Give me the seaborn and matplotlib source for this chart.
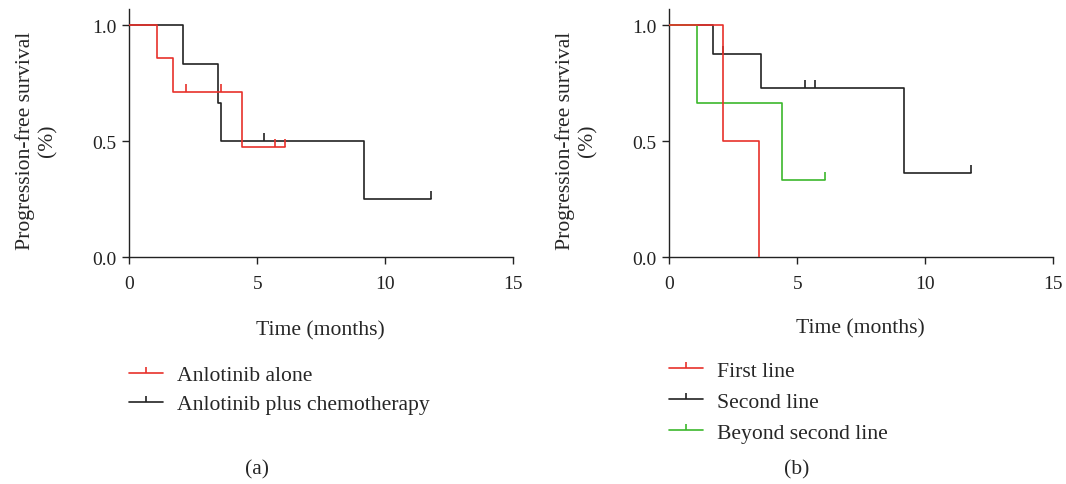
import numpy as np
import pandas as pd
import matplotlib
matplotlib.use("Agg")
import matplotlib.pyplot as plt
from matplotlib.lines import Line2D
import seaborn as sns

sns.set_style("ticks")
plt.rcParams['font.family'] = ['Liberation Serif', 'DejaVu Serif']

# ---------- Panel (a) data ----------
a_alone_t = [0, 1.09, 1.69, 4.40, 6.08]
a_alone_s = [1.0, 0.857, 0.714, 0.476, 0.476]
a_alone_ct = [2.21, 3.58, 5.69, 6.08]
a_alone_cs = [0.714, 0.714, 0.476, 0.476]

a_chemo_t = [0, 2.08, 3.48, 3.60, 9.18, 11.78]
a_chemo_s = [1.0, 0.833, 0.667, 0.5, 0.25, 0.25]
a_chemo_ct = [5.27, 11.78]
a_chemo_cs = [0.5, 0.25]

# ---------- Panel (b) data ----------
b_first_t = [0, 2.08, 3.49]
b_first_s = [1.0, 0.5, 0.0]
b_first_ct = []
b_first_cs = []

b_second_t = [0, 1.69, 3.58, 9.18, 11.78]
b_second_s = [1.0, 0.875, 0.729, 0.365, 0.365]
b_second_ct = [2.11, 5.29, 5.68, 11.78]
b_second_cs = [0.875, 0.729, 0.729, 0.365]

b_beyond_t = [0, 1.09, 4.40, 6.08]
b_beyond_s = [1.0, 0.667, 0.333, 0.333]
b_beyond_ct = [6.08]
b_beyond_cs = [0.333]

labels_a = ["Anlotinib alone", "Anlotinib plus chemotherapy"]
labels_b = ["First line", "Second line", "Beyond second line"]
xticks = [0, 5, 10, 15]
yticks = [0.0, 0.5, 1.0]
ytick_labels = ["0.0", "0.5", "1.0"]

RED = "#e8312b"
BLACK = "#222222"
GREEN = "#3cb82c"
FS = 15.6
TFS = 14.0
LW = 1.2

fig = plt.figure(figsize=(10.66, 4.85), dpi=100)
W, H = 1066, 485
ax_a = fig.add_axes([129.3 / W, 1 - 258.3 / H, 383.7 / W, 248.3 / H])
ax_b = fig.add_axes([669.3 / W, 1 - 258.3 / H, 383.7 / W, 248.3 / H])


def km(ax, t, s, ct, cs, color, label, z):
    df = pd.DataFrame({"t": t, "s": s})
    sns.lineplot(data=df, x="t", y="s", ax=ax, color=color, lw=LW,
                 drawstyle="steps-post", estimator=None, sort=False,
                 zorder=z, label=label)
    if len(ct):
        dc = pd.DataFrame({"t": ct, "s": cs})
        sns.scatterplot(data=dc, x="t", y="s", ax=ax, color=color,
                        marker=2, s=30, linewidth=LW, zorder=z,
                        legend=False)


# panel (a)
km(ax_a, a_chemo_t, a_chemo_s, a_chemo_ct, a_chemo_cs, BLACK, labels_a[1], 3)
km(ax_a, a_alone_t, a_alone_s, a_alone_ct, a_alone_cs, RED, labels_a[0], 4)

# panel (b)
km(ax_b, b_second_t, b_second_s, b_second_ct, b_second_cs, BLACK, labels_b[1], 3)
km(ax_b, b_beyond_t, b_beyond_s, b_beyond_ct, b_beyond_cs, GREEN, labels_b[2], 4)
km(ax_b, b_first_t, b_first_s, b_first_ct, b_first_cs, RED, labels_b[0], 5)

for ax, labs, cols, sub, xlab_y, leg_y, lsp in [
        (ax_a, labels_a, [RED, BLACK], "(a)", -0.252, -0.434, 0.42),
        (ax_b, labels_b, [RED, BLACK, GREEN], "(b)", -0.244, -0.417, 0.5)]:
    ax.set_xlim(0, 15)
    ax.set_ylim(0, 1.07)
    ax.set_xticks(xticks)
    ax.set_xticklabels([str(x) for x in xticks])
    ax.set_yticks(yticks)
    ax.set_yticklabels(ytick_labels)
    ax.tick_params(direction="out", length=5, width=1.0, colors="#222222",
                   labelsize=TFS)
    ax.tick_params(axis="x", pad=8)
    ax.tick_params(axis="y", pad=4)
    for side in ["top", "right"]:
        ax.spines[side].set_visible(False)
    for side in ["left", "bottom"]:
        ax.spines[side].set_linewidth(1.0)
        ax.spines[side].set_color("#222222")
    ax.set_xlabel("Time (months)", fontsize=FS)
    ax.xaxis.set_label_coords(0.497, xlab_y)
    ax.set_ylabel("Progression-free survival\n(%)", fontsize=FS,
                  linespacing=1.25)
    ax.yaxis.set_label_coords(-0.186, 0.472)
    hs = [Line2D([0, 0.5, 1], [0, 0, 0], color=c, lw=LW, marker=2,
                 markersize=4.5, markeredgewidth=LW, markevery=[1])
          for c in cols]
    ax.legend(hs, labs, loc="upper left", bbox_to_anchor=(0.0, leg_y),
              frameon=False, fontsize=FS, handlelength=1.55,
              handletextpad=0.65, borderaxespad=0, borderpad=0,
              labelspacing=lsp)
    ax.text(0.333, -0.853, sub, transform=ax.transAxes, fontsize=FS,
            ha="center", va="center")

fig.savefig("out.png", dpi=100)
